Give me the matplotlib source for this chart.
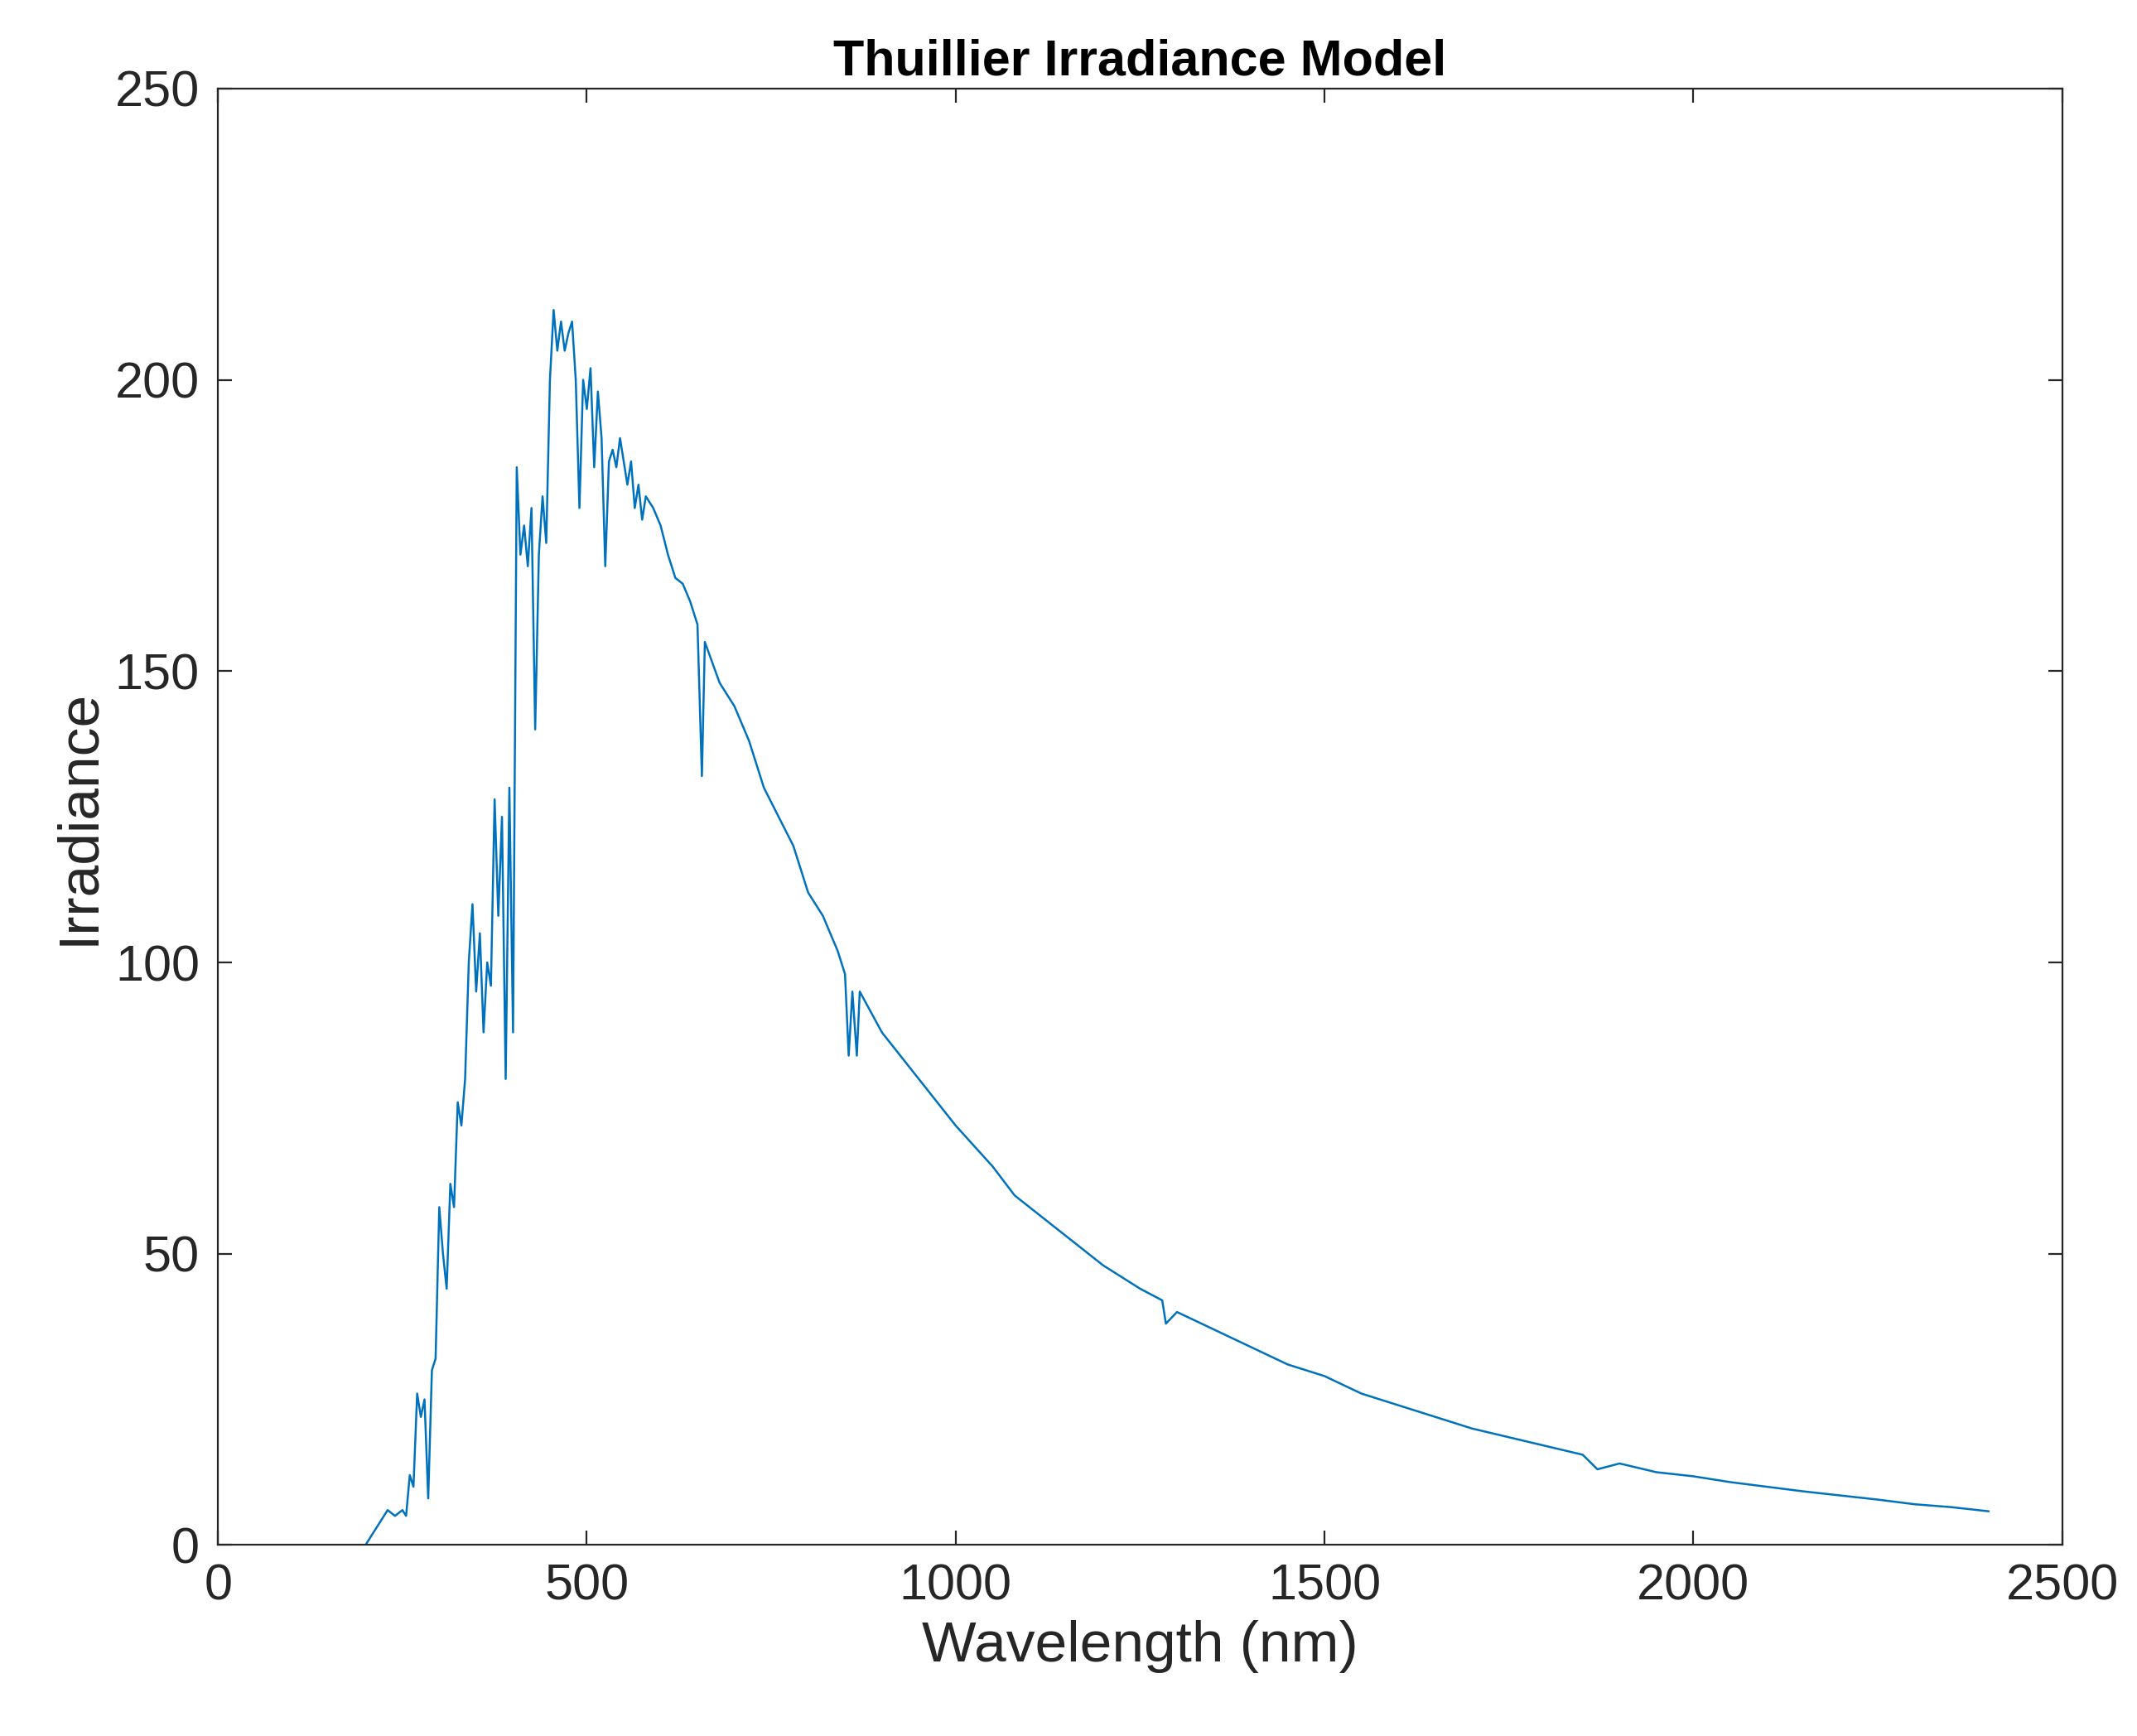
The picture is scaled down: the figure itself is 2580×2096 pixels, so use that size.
import matplotlib
matplotlib.use("Agg")
import matplotlib.pyplot as plt

plt.rcParams['font.family'] = ['Liberation Sans', 'DejaVu Sans']

wavelength = [200,210,220,230,240,250,255,260,265,270,275,280,285,290,295,300,305,310,315,320,325,330,335,340,345,350,355,360,365,370,375,380,385,390,395,400,405,410,415,420,425,430,435,440,445,450,455,460,465,470,475,480,485,490,495,500,505,510,515,520,525,530,535,540,545,550,555,560,565,570,575,580,590,600,610,620,630,640,650,656,660,680,700,720,740,760,780,800,820,840,850,855,860,866,870,900,950,1000,1050,1080,1100,1150,1200,1250,1280,1285,1300,1350,1400,1450,1500,1550,1600,1650,1700,1750,1800,1850,1870,1900,1950,2000,2050,2100,2150,2200,2250,2300,2350,2400]
irradiance = [0,2,4,6,5,6,5,12,10,26,22,25,8,30,32,58,50,44,62,58,76,72,80,100,110,95,105,88,100,96,128,108,125,80,130,88,185,170,175,168,178,140,170,180,172,200,212,205,210,205,208,210,200,178,200,195,202,185,198,190,168,186,188,185,190,186,182,186,178,182,176,180,178,175,170,166,165,162,158,132,155,148,144,138,130,125,120,112,108,102,98,84,95,84,95,88,80,72,65,60,58,53,48,44,42,38,40,37,34,31,29,26,24,22,20,18.5,17,15.5,13,14,12.5,11.8,10.8,10,9.2,8.5,7.8,7,6.5,5.8]

fig = plt.figure(figsize=(12.9, 10.48), dpi=200)
ax = fig.add_axes([0.102, 0.11, 0.863, 0.839])
ax.plot(wavelength, irradiance, color="#0072BD", lw=0.9)
ax.set_xlim(0, 2500)
ax.set_ylim(0, 250)
ax.set_xticks([0, 500, 1000, 1500, 2000, 2500])
ax.set_yticks([0, 50, 100, 150, 200, 250])
ax.tick_params(direction="in", top=True, right=True, labelsize=22, length=6, pad=8, colors="#262626")
for s in ax.spines.values():
    s.set_color("#262626")
ax.set_xlabel("Wavelength (nm)", fontsize=25, color="#262626")
ax.set_ylabel("Irradiance", fontsize=25, color="#262626")
ax.set_title("Thuillier Irradiance Model", fontsize=22, fontweight="bold")
fig.savefig("out.png", dpi=200)
